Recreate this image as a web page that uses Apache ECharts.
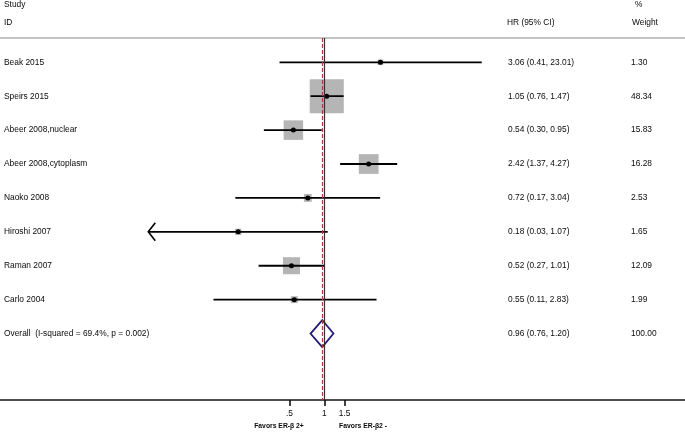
<!DOCTYPE html>
<html><head><meta charset="utf-8">
<script src="https://cdn.jsdelivr.net/npm/echarts@6/dist/echarts.min.js"></script>
<style>html,body{margin:0;padding:0;background:#fff}#c{width:685px;height:436px}</style>
</head><body><div id="c"></div>
<script>
// ---- data ----
const studies = ['Beak 2015', 'Speirs 2015', 'Abeer 2008,nuclear', 'Abeer 2008,cytoplasm', 'Naoko 2008', 'Hiroshi 2007', 'Raman 2007', 'Carlo 2004'];
const hr = [3.06, 1.05, 0.54, 2.42, 0.72, 0.18, 0.52, 0.55];
const ciLow = [0.41, 0.76, 0.30, 1.37, 0.17, 0.03, 0.27, 0.11];
const ciHigh = [23.01, 1.47, 0.95, 4.27, 3.04, 1.07, 1.01, 2.83];
const weights = [1.30, 48.34, 15.83, 16.28, 2.53, 1.65, 12.09, 1.99];
const arrowLeft = [false, false, false, false, false, true, false, false];
const overallLabel = 'Overall  (I-squared = 69.4%, p = 0.002)';
const overallHR = [0.96];
const overallLow = [0.76];
const overallHigh = [1.20];
const overallWeight = [100.00];
const tickValues = [0.5, 1, 1.5];
const tickLabels = ['.5', '1', '1.5'];
const favorsLabels = ['Favors ER-β 2+', 'Favors ER-β2 -'];

// ---- derived ----
const nameCol = studies.concat([overallLabel]);
const hrCol = hr.map((v, i) => v.toFixed(2) + ' (' + ciLow[i].toFixed(2) + ', ' + ciHigh[i].toFixed(2) + ')')
  .concat([overallHR[0].toFixed(2) + ' (' + overallLow[0].toFixed(2) + ', ' + overallHigh[0].toFixed(2) + ')']);
const wCol = weights.map(v => v.toFixed(2)).concat([overallWeight[0].toFixed(2)]);
const rows = nameCol.map((_, i) => i + 1);
const ln = Math.log;

const X_MIN = -6.46, X_MAX = 7.185;
const Y_MIN = 0.283, Y_MAX = 10.96;
const FONT = 'Liberation Sans, Arial, sans-serif';
const TXT = '#0a0a0a';
const FS = 8.4;

const yBase = {
  type: 'value', min: Y_MIN, max: Y_MAX, inverse: true,
  splitLine: { show: false }, axisLine: { show: false, onZero: false }, axisTick: { show: false }
};
function textAxis(offset, col) {
  return Object.assign({}, yBase, {
    position: 'left', offset: offset,
    axisLabel: {
      inside: true, margin: 0, align: 'left', verticalAlign: 'middle',
      customValues: rows, fontSize: FS, color: TXT, fontFamily: FONT,
      formatter: v => col[Math.round(v) - 1] || ''
    }
  });
}

const chart = echarts.init(document.getElementById('c'), null, { renderer: 'canvas' });
const hdr = (text, left, top) => ({ text, left, top, padding: 0,
  textStyle: { fontSize: FS, fontWeight: 'normal', color: TXT, fontFamily: FONT, lineHeight: 10 } });

chart.setOption({
  animation: false,
  backgroundColor: '#fff',
  textStyle: { fontFamily: FONT },
  title: [
    hdr('Study', 4, 0), hdr('ID', 4, 18), hdr('HR (95% CI)', 507, 18), hdr('%', 635, 0), hdr('Weight', 632, 18)
  ],
  grid: { left: 0, right: 0, top: 38, bottom: 36, containLabel: false, outerBoundsMode: 'none' },
  xAxis: [
    {
      type: 'value', min: X_MIN, max: X_MAX, position: 'bottom',
      splitLine: { show: false },
      axisLine: { onZero: false, lineStyle: { color: '#111', width: 1.6 } },
      axisTick: { customValues: tickValues.map(ln), length: 6, lineStyle: { color: '#111', width: 1.6 } },
      axisLabel: {
        customValues: tickValues.map(ln), margin: 10, fontSize: FS, color: TXT, fontFamily: FONT,
        formatter: v => {
          let best = 0;
          tickValues.forEach((t, i) => { if (Math.abs(ln(t) - v) < Math.abs(ln(tickValues[best]) - v)) best = i; });
          return tickLabels[best];
        }
      }
    },
    {
      type: 'value', min: X_MIN, max: X_MAX, position: 'top',
      splitLine: { show: false }, axisTick: { show: false }, axisLabel: { show: false },
      axisLine: { onZero: false, lineStyle: { color: '#b0b0b0', width: 1.5 } }
    }
  ],
  yAxis: [
    Object.assign({}, yBase, { axisLabel: { show: false } }),
    textAxis(-4, nameCol),
    textAxis(-508, hrCol),
    textAxis(-631, wCol)
  ],
  graphic: favorsLabels.map((t, i) => ({
    type: 'text', x: i === 0 ? 279 : 363, y: 426,
    style: { text: t, fill: TXT, fontSize: 6.8, fontWeight: 'bold',
      fontFamily: 'Liberation Sans Narrow, Liberation Sans, Arial', align: 'center', verticalAlign: 'middle' }
  })),
  series: [
    {
      type: 'scatter', data: [], z: 1, silent: true,
      markLine: {
        silent: true, symbol: 'none', label: { show: false }, animation: false,
        data: [
          { xAxis: 0, lineStyle: { color: '#333', width: 1.2, type: 'solid' } },
          { xAxis: ln(overallHR[0]), lineStyle: { color: '#b23a46', width: 1.2, type: [4, 2] } }
        ]
      }
    },
    {
      type: 'scatter', z: 2, silent: true, symbol: 'rect',
      data: hr.map((v, i) => [ln(v), i + 1, weights[i]]),
      symbolSize: d => 4.9 * Math.sqrt(d[2]),
      itemStyle: { color: '#b5b5b5', opacity: 1 }
    },
    {
      type: 'custom', z: 3, silent: true,
      data: hr.map((v, i) => [ln(ciLow[i]), ln(ciHigh[i]), i + 1, arrowLeft[i] ? 1 : 0]),
      encode: { x: [0, 1], y: 2 },
      renderItem: (params, api) => {
        const a = api.coord([api.value(0), api.value(2)]);
        const b = api.coord([api.value(1), api.value(2)]);
        const children = [{ type: 'line', shape: { x1: a[0], y1: a[1], x2: b[0], y2: b[1] },
          style: { stroke: '#000', lineWidth: 1.8 } }];
        if (api.value(3)) {
          children.push({ type: 'polyline',
            shape: { points: [[a[0] + 7, a[1] - 9], [a[0], a[1]], [a[0] + 7, a[1] + 9]] },
            style: { stroke: '#000', lineWidth: 1.6, fill: null } });
        }
        return { type: 'group', children };
      }
    },
    {
      type: 'scatter', z: 4, silent: true, symbol: 'circle', symbolSize: 5,
      data: hr.map((v, i) => [ln(v), i + 1]),
      itemStyle: { color: '#000', opacity: 1 }
    },
    {
      type: 'custom', z: 4, silent: true,
      data: [[ln(overallLow[0]), ln(overallHR[0]), ln(overallHigh[0]), nameCol.length]],
      encode: { x: [0, 1, 2], y: 3 },
      renderItem: (params, api) => {
        const l = api.coord([api.value(0), api.value(3)]);
        const m = api.coord([api.value(1), api.value(3)]);
        const r = api.coord([api.value(2), api.value(3)]);
        return { type: 'polygon',
          shape: { points: [[l[0], l[1]], [m[0], m[1] - 13.5], [r[0], r[1]], [m[0], m[1] + 13.5]] },
          style: { stroke: '#1e1c78', lineWidth: 1.8, fill: 'none' } };
      }
    }
  ]
});
</script></body></html>
